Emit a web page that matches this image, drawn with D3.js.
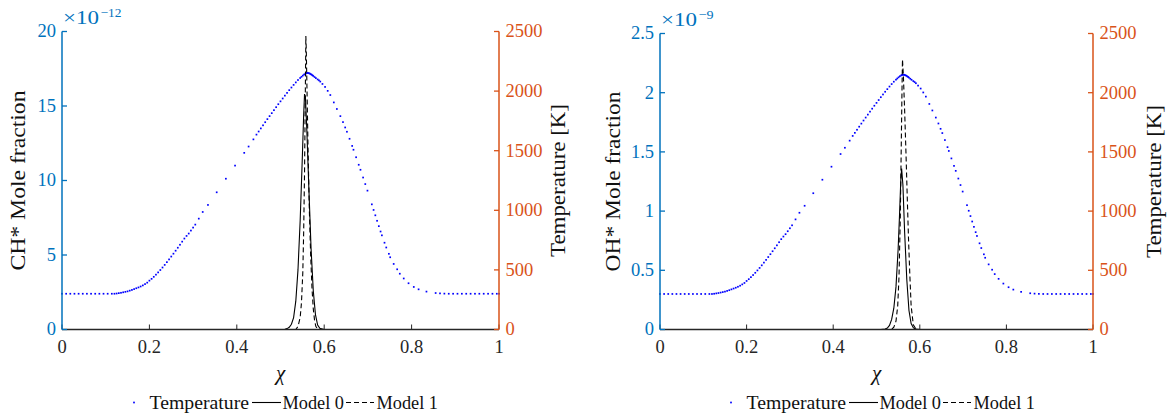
<!DOCTYPE html>
<html><head><meta charset="utf-8">
<script src="https://cdn.jsdelivr.net/npm/d3@7"></script>
<style>
body{margin:0;background:#fff}
svg{display:block}
</style>
</head><body>
<svg id="c" width="1168" height="414"></svg>
<script>
// ---------- data ----------
const chiTicks = [0, 0.2, 0.4, 0.6, 0.8, 1];
const chTicks = [0, 5, 10, 15, 20];
const ohTicks = [0, 0.5, 1, 1.5, 2, 2.5];
const tempTicks = [0, 500, 1000, 1500, 2000, 2500];
const legendLabels = ["Temperature", "Model 0", "Model 1"];

// temperature profile (K) on the solution grid (mixture fraction chi)
const chiT = [
  0, 0.0095, 0.019, 0.0285, 0.038, 0.0475, 0.057, 0.0665, 0.076, 0.0855, 0.095, 0.1045, 0.114, 0.12,
  0.125, 0.13, 0.135, 0.14, 0.145, 0.15, 0.155, 0.16, 0.165, 0.17, 0.175, 0.18, 0.185, 0.19, 0.195,
  0.2, 0.205, 0.21, 0.215, 0.22, 0.225, 0.23, 0.235, 0.24, 0.245, 0.25, 0.255, 0.26, 0.265, 0.27,
  0.275, 0.28, 0.285, 0.29, 0.295, 0.3,
  0.305, 0.313, 0.322, 0.334, 0.354, 0.375, 0.396, 0.417, 0.427, 0.438,
  0.445, 0.45, 0.455, 0.46, 0.465, 0.47, 0.475, 0.48, 0.485, 0.49, 0.495, 0.5, 0.505, 0.51, 0.515,
  0.52, 0.525, 0.53, 0.535, 0.54, 0.545,
  0.548, 0.551, 0.554, 0.557, 0.559, 0.561, 0.563, 0.565, 0.567, 0.569, 0.571, 0.573, 0.575, 0.578,
  0.581, 0.585, 0.588, 0.591,
  0.596, 0.602, 0.608, 0.614, 0.622, 0.629, 0.637, 0.643, 0.648, 0.652, 0.658, 0.664, 0.667, 0.673,
  0.679, 0.683, 0.689, 0.694, 0.699,
  0.709, 0.713, 0.717, 0.721, 0.725, 0.729, 0.732, 0.738, 0.742, 0.748, 0.751, 0.759, 0.767, 0.773,
  0.782, 0.793, 0.805, 0.816, 0.834, 0.855,
  0.865, 0.875, 0.885, 0.895, 0.905, 0.915, 0.925, 0.935, 0.945, 0.955, 0.965, 0.975, 0.985, 0.995, 1
];
const temperature = [
  300, 300, 300, 300, 300, 300, 300, 300, 300, 300, 300, 300, 300, 300,
  302, 305, 308, 312, 316, 320, 326, 332, 339, 346, 353, 361, 370, 381, 393,
  410, 425, 442, 460, 479, 499, 520, 542, 565, 588, 612, 636, 661, 686, 711,
  737, 763, 785, 805, 830, 855,
  880, 930, 986, 1045, 1151, 1265, 1375, 1482, 1535, 1595,
  1635, 1661, 1687, 1713, 1739, 1765, 1790, 1815, 1840, 1865, 1890, 1914, 1938, 1962, 1985,
  2008, 2030, 2052, 2073, 2093, 2110,
  2120, 2130, 2139, 2146, 2150, 2152, 2152, 2150, 2147, 2143, 2138, 2133, 2127, 2118,
  2109, 2098, 2090, 2080,
  2060, 2035, 2002, 1967, 1905, 1850, 1790, 1740, 1695, 1659, 1600, 1540, 1508, 1445,
  1382, 1340, 1275, 1220, 1165,
  1050, 1003, 958, 912, 867, 822, 790, 728, 688, 635, 606, 550, 505, 468,
  428, 388, 357, 337, 318, 306,
  303, 301, 300, 300, 300, 300, 300, 300, 300, 300, 300, 300, 300, 300, 300
];

// CH* mole fraction (x 1e-12)
const chiCH0 = [0, 0.5, 0.51, 0.515, 0.52, 0.525, 0.53, 0.535, 0.54, 0.545, 0.55, 0.553, 0.555, 0.557, 0.56, 0.565, 0.57, 0.575, 0.58, 0.585, 0.59, 0.6, 1];
const ch0 = [0, 0, 0.02, 0.06, 0.15, 0.35, 0.8, 1.9, 4.0, 7.3, 11.6, 14.4, 15.8, 15.6, 13.6, 9.4, 5.4, 2.6, 1.0, 0.3, 0.08, 0, 0];
const chiCH1 = [0, 0.535, 0.54, 0.545, 0.548, 0.551, 0.553, 0.555, 0.557, 0.558, 0.559, 0.561, 0.563, 0.566, 0.569, 0.572, 0.575, 0.578, 0.581, 0.585, 0.59, 1];
const ch1 = [0, 0, 0.2, 0.8, 1.8, 3.8, 6.5, 10.5, 16.5, 19.7, 18.8, 15.5, 12.2, 8.0, 5.0, 2.8, 1.4, 0.6, 0.2, 0.05, 0, 0];

// OH* mole fraction (x 1e-9)
const chiOH0 = [0, 0.51, 0.52, 0.525, 0.53, 0.535, 0.54, 0.545, 0.55, 0.553, 0.556, 0.558, 0.561, 0.565, 0.57, 0.575, 0.58, 0.585, 0.59, 0.6, 1];
const oh0 = [0, 0, 0.004, 0.012, 0.035, 0.085, 0.18, 0.36, 0.68, 0.95, 1.25, 1.36, 1.22, 0.82, 0.42, 0.16, 0.05, 0.015, 0.003, 0, 0];
const chiOH1 = [0, 0.535, 0.54, 0.545, 0.549, 0.552, 0.555, 0.557, 0.559, 0.56, 0.562, 0.565, 0.568, 0.571, 0.574, 0.577, 0.58, 0.585, 0.59, 0.6, 1];
const oh1 = [0, 0, 0.02, 0.07, 0.2, 0.45, 0.95, 1.5, 2.05, 2.28, 2.15, 1.85, 1.5, 1.12, 0.76, 0.46, 0.2, 0.04, 0.01, 0, 0];

// ---------- drawing ----------
const BLUE = "#0072BD", ORANGE = "#D95319", INK = "#262626";
const SERIF = "'Liberation Serif', 'DejaVu Serif', serif";
const svg = d3.select("#c");

function panel(cfg) {
  const g = svg.append("g");
  const x = d3.scaleLinear().domain([0, 1]).range([cfg.x0, cfg.x1]);
  const yL = d3.scaleLinear().domain([0, cfg.lMax]).range([cfg.yB, cfg.yT]);
  const yR = d3.scaleLinear().domain([0, 2500]).range([cfg.yB, cfg.yT]);

  // temperature dots
  g.append("g").selectAll("rect")
    .data(d3.zip(chiT, temperature))
    .join("rect")
    .attr("x", d => x(d[0]) - 0.85)
    .attr("y", d => yR(d[1]) - 0.85)
    .attr("width", 1.7).attr("height", 1.7)
    .attr("fill", "#0000ff");

  const line = d3.line().x(d => x(d[0])).y(d => yL(d[1]));
  g.append("path").datum(d3.zip(cfg.m0x, cfg.m0y)).attr("d", line)
    .attr("fill", "none").attr("stroke", "#000").attr("stroke-width", 1.1);
  g.append("path").datum(d3.zip(cfg.m1x, cfg.m1y)).attr("d", line)
    .attr("fill", "none").attr("stroke", "#000").attr("stroke-width", 1.1)
    .attr("stroke-dasharray", "5,3");

  const fs = "18.5px";
  // bottom axis
  const ax = g.append("g").attr("transform", `translate(0,${cfg.yB})`)
    .call(d3.axisBottom(x).tickValues(chiTicks).tickFormat(d => String(d))
      .tickSize(-5).tickSizeOuter(0).tickPadding(10).offset(0));
  ax.select(".domain").attr("stroke", INK).attr("stroke-width", 1.4);
  ax.selectAll(".tick line").attr("stroke", INK);
  ax.selectAll("text").attr("fill", INK).style("font-size", fs);

  // left axis
  const al = g.append("g").attr("transform", `translate(${cfg.x0},0)`)
    .call(d3.axisLeft(yL).tickValues(cfg.lTicks).tickFormat(d => String(d))
      .tickSize(-5).tickSizeOuter(0).tickPadding(6).offset(0));
  al.select(".domain").attr("stroke", BLUE).attr("stroke-width", 1.5);
  al.selectAll(".tick line").attr("stroke", BLUE).attr("stroke-width", 1.3);
  al.selectAll("text").attr("fill", BLUE).style("font-size", fs);

  // right axis
  const ar = g.append("g").attr("transform", `translate(${cfg.x1},0)`)
    .call(d3.axisRight(yR).tickValues(tempTicks).tickFormat(d => String(d))
      .tickSize(-5).tickSizeOuter(0).tickPadding(6.5).offset(0));
  ar.select(".domain").attr("stroke", ORANGE).attr("stroke-width", 1.5);
  ar.selectAll(".tick line").attr("stroke", ORANGE).attr("stroke-width", 1.3);
  ar.selectAll("text").attr("fill", ORANGE).style("font-size", fs);

  // exponent
  g.append("text").attr("x", cfg.x0 + 1).attr("y", cfg.yT - 7.5)
    .attr("fill", BLUE).style("font-size", "18px")
    .attr("textLength", 36).attr("lengthAdjust", "spacingAndGlyphs").text("×10");
  g.append("text").attr("x", cfg.x0 + 38.5).attr("y", cfg.yT - 14.5)
    .attr("fill", BLUE).style("font-size", "12.5px")
    .attr("textLength", cfg.expW).attr("lengthAdjust", "spacingAndGlyphs").text(cfg.exp);

  // axis titles
  const midY = (cfg.yT + cfg.yB) / 2;
  g.append("text").attr("transform", `translate(${cfg.lLabX},${midY}) rotate(-90)`)
    .attr("text-anchor", "middle").attr("fill", "#111").style("font-size", "20.5px")
    .attr("textLength", 180).attr("lengthAdjust", "spacingAndGlyphs").text(cfg.lLabel);
  g.append("text").attr("transform", `translate(${cfg.rLabX},${midY}) rotate(-90)`)
    .attr("text-anchor", "middle").attr("fill", "#111").style("font-size", "20.5px")
    .attr("textLength", 153).attr("lengthAdjust", "spacingAndGlyphs").text("Temperature [K]");
  g.append("text").attr("x", (cfg.x0 + cfg.x1) / 2).attr("y", 380)
    .attr("text-anchor", "middle").attr("fill", "#111").style("font-size", "21px")
    .style("font-style", "italic").text("χ");

  // legend
  const L = g.append("g").attr("transform", `translate(${cfg.legX},0)`);
  const ly = 402.5, tb = 408.5;
  L.append("rect").attr("x", -0.85).attr("y", ly - 0.85).attr("width", 1.7).attr("height", 1.7).attr("fill", "#0000ff");
  L.append("text").attr("x", 15.5).attr("y", tb).attr("fill", "#111").style("font-size", "18.5px")
    .attr("textLength", 99.5).attr("lengthAdjust", "spacingAndGlyphs").text(legendLabels[0]);
  L.append("line").attr("x1", 118).attr("x2", 147).attr("y1", ly).attr("y2", ly)
    .attr("stroke", "#000").attr("stroke-width", 1.1);
  L.append("text").attr("x", 148.5).attr("y", tb).attr("fill", "#111").style("font-size", "18.5px")
    .attr("textLength", 61.5).attr("lengthAdjust", "spacingAndGlyphs").text(legendLabels[1]);
  L.append("line").attr("x1", 212).attr("x2", 240).attr("y1", ly).attr("y2", ly)
    .attr("stroke", "#000").attr("stroke-width", 1.1).attr("stroke-dasharray", "5,3");
  L.append("text").attr("x", 242.5).attr("y", tb).attr("fill", "#111").style("font-size", "18.5px")
    .attr("textLength", 61.5).attr("lengthAdjust", "spacingAndGlyphs").text(legendLabels[2]);
}

panel({x0: 62, x1: 499, yT: 31.5, yB: 329.5, lMax: 20, lTicks: chTicks, exp: "−12", expW: 21,
  m0x: chiCH0, m0y: ch0, m1x: chiCH1, m1y: ch1,
  lLabel: "CH* Mole fraction", lLabX: 25, rLabX: 565, legX: 134});
panel({x0: 660, x1: 1093, yT: 33.5, yB: 329.5, lMax: 2.5, lTicks: ohTicks, exp: "−9", expW: 15,
  m0x: chiOH0, m0y: oh0, m1x: chiOH1, m1y: oh1,
  lLabel: "OH* Mole fraction", lLabX: 620, rLabX: 1161, legX: 731});

// force the serif face on every label (d3 axes set sans-serif on their groups)
svg.selectAll("g").attr("font-family", SERIF);
svg.selectAll("text").attr("font-family", SERIF).style("font-family", SERIF);
</script>
</body></html>
